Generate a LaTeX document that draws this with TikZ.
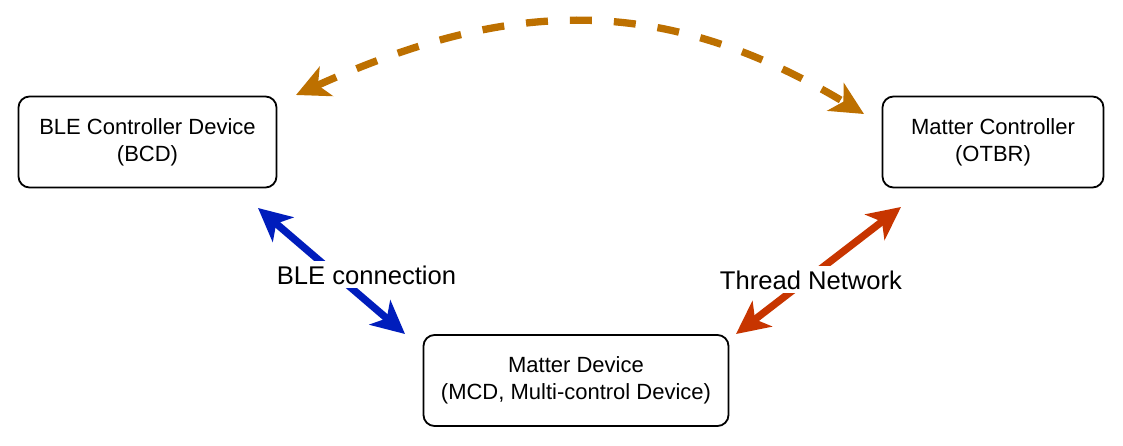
\documentclass[tikz,border=0pt]{standalone}
\usepackage{fontspec}
\setmainfont{Liberation Sans}
\usetikzlibrary{arrows.meta}
\definecolor{bleblue}{HTML}{001DBC}
\definecolor{thrred}{HTML}{C73500}
\definecolor{dashorange}{HTML}{BD7000}
\begin{document}
\begin{tikzpicture}[x=1pt,y=-1pt,
  devbox/.style={draw=black, line width=1.8pt, rounded corners=11pt, fill=white,
    align=center, font=\fontsize{22}{27.3}\selectfont, inner sep=0pt, minimum height=91pt},
  lnk/.style={line width=7.3pt, {Stealth[length=33pt,width=32pt,inset=9pt]}-{Stealth[length=33pt,width=32pt,inset=9pt]}},
  dlnk/.style={lnk, dash pattern=on 22pt off 22pt},
  lbl/.style={fill=white, font=\fontsize{25.6}{30}\selectfont, inner sep=4pt, anchor=base}]
\useasboundingbox (0,0) rectangle (1123,446);
\node[devbox, minimum width=258pt] (bcd) at (147.5,142) {BLE Controller Device\\(BCD)};
\node[devbox, minimum width=221pt] (otbr) at (993,142) {Matter Controller\\(OTBR)};
\node[devbox, minimum width=305pt] (mcd) at (576,380.5) {Matter Device\\(MCD, Multi-control Device)};
\coordinate (bleA) at (258,208);
\coordinate (bleB) at (405,334);
\coordinate (thrA) at (901,207);
\coordinate (thrB) at (736,334);
\coordinate (dl) at (296,95);
\coordinate (dr) at (864,114);
\draw[lnk, draw=bleblue] (bleA) -- (bleB);
\draw[lnk, draw=thrred] (thrA) -- (thrB);
\draw[dlnk, draw=dashorange] (dl) .. controls (503.7,1.5) and (656.3,-10.6) .. (dr);
\node[lbl] (blelbl) at (366.5,284) {BLE connection};
\node[lbl] (thrlbl) at (811,289) {Thread Network};
\end{tikzpicture}
\end{document}
